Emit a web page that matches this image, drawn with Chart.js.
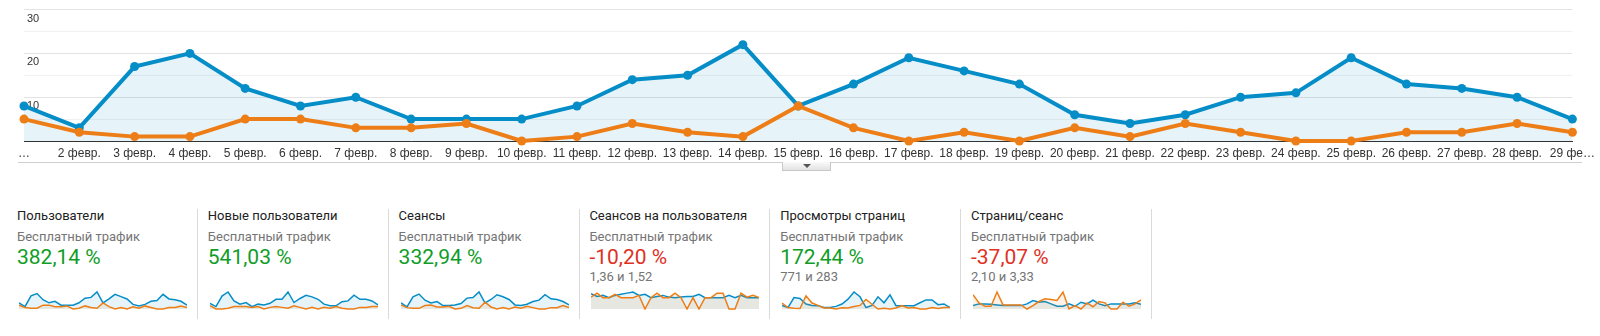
<!DOCTYPE html>
<html lang="ru">
<head>
<meta charset="utf-8">
<script src="https://cdn.jsdelivr.net/npm/chart.js@4.4.1/dist/chart.umd.min.js"></script>
<style>
    body { margin: 0; width: 1600px; height: 336px; overflow: hidden; background: #fff; font-family: Roboto, Arial, sans-serif; }
    #mainChart { position: absolute; left: 0; top: 0; }
    .rule { position: absolute; left: 18px; top: 162px; width: 1564px; height: 1px; background: #cfcfcf; }
    .tab { position: absolute; left: 782px; top: 162px; width: 47px; height: 8px; border: 1px solid #c8c8c8; border-top: none; background: linear-gradient(#fafafa, #e2e2e2); }
    .tab:after { content: ''; position: absolute; left: 20px; top: 2px; border-left: 4px solid transparent; border-right: 4px solid transparent; border-top: 4px solid #555; }
    .sep { position: absolute; top: 209px; width: 1px; height: 110px; background: #dadada; }
    .txt { position: absolute; white-space: nowrap; }
    .title { font-size: 13px; line-height: 16px; color: #212121; }
    .sub { font-size: 13px; line-height: 16px; color: #757575; }
    .big { font-size: 21px; line-height: 24px; }
    .up { color: #0f9d28; }
    .down { color: #e0311f; }
    canvas.spark { position: absolute; }
</style>
</head>
<body>
<canvas id="mainChart" width="1600" height="160"></canvas>
<div class="rule"></div>
<div class="tab"></div>
<div id="cards"></div>

<script>
const days = ['1 февр.', '2 февр.', '3 февр.', '4 февр.', '5 февр.', '6 февр.', '7 февр.', '8 февр.', '9 февр.', '10 февр.',
    '11 февр.', '12 февр.', '13 февр.', '14 февр.', '15 февр.', '16 февр.', '17 февр.', '18 февр.', '19 февр.', '20 февр.',
    '21 февр.', '22 февр.', '23 февр.', '24 февр.', '25 февр.', '26 февр.', '27 февр.', '28 февр.', '29 февр.'];
const dayTicks = ['…', '2 февр.', '3 февр.', '4 февр.', '5 февр.', '6 февр.', '7 февр.', '8 февр.', '9 февр.', '10 февр.',
    '11 февр.', '12 февр.', '13 февр.', '14 февр.', '15 февр.', '16 февр.', '17 февр.', '18 февр.', '19 февр.', '20 февр.',
    '21 февр.', '22 февр.', '23 февр.', '24 февр.', '25 февр.', '26 февр.', '27 февр.', '28 февр.', '29 фе…'];

// blue = current period, orange = comparison period
const usersCur = [8, 3, 17, 20, 12, 8, 10, 5, 5, 5, 8, 14, 15, 22, 8, 13, 19, 16, 13, 6, 4, 6, 10, 11, 19, 13, 12, 10, 5];
const usersPrev = [5, 2, 1, 1, 5, 5, 3, 3, 4, 0, 1, 4, 2, 1, 8, 3, 0, 2, 0, 3, 1, 4, 2, 0, 0, 2, 2, 4, 2];
const newUsersCur = [7, 3, 16, 21, 10, 6, 8, 3, 6, 5, 7, 12, 12, 21, 8, 13, 17, 15, 12, 6, 4, 4, 9, 10, 17, 12, 12, 10, 5];
const newUsersPrev = [4, 0, 0, 1, 3, 3, 3, 2, 3, 0, 2, 3, 2, 1, 4, 2, 0, 2, 0, 2, 1, 3, 1, 0, 0, 2, 2, 3, 3];
const sessionsCur = [9, 3, 18, 22, 13, 9, 11, 5, 5, 6, 8, 16, 17, 25, 9, 14, 21, 18, 14, 6, 5, 7, 11, 13, 21, 15, 14, 11, 6];
const sessionsPrev = [6, 2, 1, 1, 5, 6, 3, 3, 4, 0, 1, 5, 2, 1, 10, 3, 0, 2, 0, 3, 1, 4, 2, 0, 0, 2, 2, 5, 2];
const perUserCur = [1.35, 1.1, 1.2, 1.0, 1.2, 1.3, 1.4, 1.5, 1.2, 1.3, 1.0, 1.1, 1.2, 1.05, 1.0, 1.05, 1.1, 1.1, 1.3, 1.0, 1.0, 1.0, 1.0, 1.2, 1.0, 1.2, 1.0, 1.0, 1.0];
const perUserPrev = [1.05, 1.4, 1.0, 1.0, 1.3, 1.0, 1.0, 1.0, 1.2, 0, 1.0, 1.4, 1.0, 1.0, 1.4, 1.0, 0, 1.0, 0, 1.0, 1.0, 1.4, 1.4, 0, 0, 1.4, 1.05, 1.2, 1.0];
const pageviewsCur = [15, 6, 48, 44, 21, 15, 14, 6, 6, 11, 21, 41, 71, 51, 6, 15, 51, 26, 59, 14, 14, 14, 14, 26, 38, 38, 18, 21, 6];
const pageviewsPrev = [25, 6, 3, 2, 55, 25, 15, 4, 4, 0, 5, 4, 10, 15, 40, 20, 0, 3, 0, 4, 14, 4, 6, 0, 0, 6, 2, 6, 6];
const pagesCur = [1.5, 2.25, 2.25, 2.1, 1.8, 1.5, 1.5, 1.5, 1.5, 2.25, 3.75, 3.0, 3.3, 2.25, 1.2, 1.2, 2.25, 1.2, 3.0, 2.25, 3.9, 2.25, 1.5, 2.25, 2.25, 2.25, 2.25, 2.7, 2.1];
const pagesPrev = [6.3, 2.7, 1.2, 1.2, 7.5, 1.8, 1.8, 1.8, 1.8, 0, 1.5, 3.3, 4.5, 4.2, 3.75, 7.5, 0, 1.5, 0, 2.7, 1.0, 3.3, 2.7, 0, 0, 3.0, 1.2, 2.25, 4.05];

const metricNames = ['Пользователи', 'Новые пользователи', 'Сеансы', 'Сеансов на пользователя', 'Просмотры страниц', 'Страниц/сеанс'];
const metricChanges = ['382,14 %', '541,03 %', '332,94 %', '-10,20 %', '172,44 %', '-37,07 %'];
const metricTotals = ['', '', '', '1,36 и 1,52', '771 и 283', '2,10 и 3,33'];
const segmentName = 'Бесплатный трафик';

const BLUE = '#058dc7';
const ORANGE = '#ed7e17';

new Chart(document.getElementById('mainChart'), {
    type: 'line',
    data: {
        labels: days,
        datasets: [
            {
                data: usersPrev,
                borderColor: ORANGE,
                backgroundColor: ORANGE,
                borderWidth: 4,
                pointRadius: 4.5,
                pointBorderWidth: 0,
                fill: false,
                clip: false
            },
            {
                data: usersCur,
                borderColor: BLUE,
                backgroundColor: 'rgba(5,141,199,0.1)',
                pointBackgroundColor: BLUE,
                borderWidth: 4,
                pointRadius: 4.5,
                pointBorderWidth: 0,
                fill: 'origin',
                clip: false
            }
        ]
    },
    options: {
        responsive: false,
        animation: false,
        events: [],
        layout: { padding: { left: 24, right: 27, top: 6, bottom: 0 } },
        plugins: { legend: { display: false }, tooltip: { enabled: false } },
        scales: {
            x: {
                afterFit: s => { s.height = 19; },
                grid: { display: false, drawTicks: false },
                border: { color: '#333', width: 1 },
                ticks: {
                    autoSkip: false,
                    maxRotation: 0,
                    padding: 5,
                    color: '#333',
                    font: { family: 'Liberation Sans, Arial', size: 12 },
                    callback: (v, i) => dayTicks[i]
                }
            },
            y: {
                min: 0,
                max: 30,
                afterFit: s => { s.width = 0; },
                border: { display: false },
                grid: {
                    drawTicks: false,
                    color: c => (c.tick.value % 10 === 0 ? '#e3e3e3' : '#f1f1f1')
                },
                ticks: {
                    stepSize: 5,
                    mirror: true,
                    padding: 3,
                    labelOffset: 9,
                    color: '#333',
                    font: { family: 'Liberation Sans, Arial', size: 11 },
                    callback: v => (v > 0 && v % 10 === 0 ? v : '')
                }
            }
        }
    }
});

function sparkline(canvas, cur, prev) {
    new Chart(canvas, {
        type: 'line',
        data: {
            labels: days,
            datasets: [
                { data: prev, borderColor: ORANGE, backgroundColor: 'rgba(237,126,23,0.1)', borderWidth: 1.5, pointRadius: 0, fill: 'origin', clip: false },
                { data: cur, borderColor: BLUE, backgroundColor: 'rgba(5,141,199,0.1)', borderWidth: 1.5, pointRadius: 0, fill: 'origin', clip: false }
            ]
        },
        options: {
            responsive: false,
            animation: false,
            events: [],
            layout: { padding: { top: 2, bottom: 1, left: 0, right: 0 } },
            plugins: { legend: { display: false }, tooltip: { enabled: false } },
            scales: {
                x: { display: false },
                y: { display: false, min: 0, bounds: 'data' }
            }
        }
    });
}

const sparkData = [
    [usersCur, usersPrev],
    [newUsersCur, newUsersPrev],
    [sessionsCur, sessionsPrev],
    [perUserCur, perUserPrev],
    [pageviewsCur, pageviewsPrev],
    [pagesCur, pagesPrev]
];

const cards = document.getElementById('cards');
const colStep = 190.8;
metricNames.forEach((name, i) => {
    const x = 17 + colStep * i;
    const neg = metricChanges[i].startsWith('-');
    cards.insertAdjacentHTML('beforeend',
        `<div class="txt title" style="left:${x}px;top:208px">${name}</div>` +
        `<div class="txt sub" style="left:${x}px;top:229px">${segmentName}</div>` +
        `<div class="txt big ${neg ? 'down' : 'up'}" style="left:${x}px;top:245px">${metricChanges[i]}</div>` +
        `<div class="txt sub" style="left:${x}px;top:269px">${metricTotals[i]}</div>` +
        `<div class="sep" style="left:${Math.round(197 + colStep * i)}px"></div>`);

    const c = document.createElement('canvas');
    c.className = 'spark';
    c.width = 168;
    c.height = 20;
    c.style.left = Math.round(x + 2) + 'px';
    c.style.top = '290px';
    cards.appendChild(c);
    sparkline(c, sparkData[i][0], sparkData[i][1]);
});
</script>
</body>
</html>
